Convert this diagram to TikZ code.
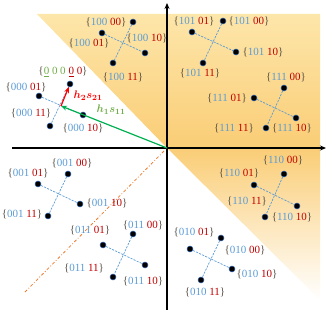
\documentclass[tikz,border=0pt]{standalone}
\usepackage{fontspec}
\setmainfont{Liberation Serif}
\usepackage{bm}
\usetikzlibrary{arrows.meta}
\definecolor{bl}{RGB}{91,155,213}
\definecolor{rd}{RGB}{192,0,0}
\definecolor{brc}{RGB}{89,80,70}
\definecolor{gn}{RGB}{112,173,71}
\definecolor{arrg}{RGB}{0,176,80}
\definecolor{shd}{RGB}{250,205,118}
\definecolor{shl}{RGB}{253,230,170}
\definecolor{dd}{RGB}{237,125,49}
\newcommand\mylab[2]{\textcolor{brc}{\{}\textcolor{bl}{#1} \textcolor{rd}{#2}\textcolor{brc}{\}}}
\begin{document}
\begin{tikzpicture}[x=1pt,y=-1pt,
  pt/.style={circle,fill=black,draw={rgb,255:red,60;green,110;blue,180},line width=0.5pt,inner sep=0pt,minimum size=6pt},
  cline/.style={draw=bl,dashed,dash pattern=on 2.2pt off 1.2pt,line width=0.7pt},
  lb/.style={inner sep=0pt,font=\fontsize{11}{12}\selectfont},
  axis/.style={line width=1.3pt,-{Stealth[length=6pt,width=5pt]}}]
\useasboundingbox (0,0) rectangle (327,310);
% shading
\shade[top color=shl,bottom color=shd] (37,14) -- (320,14) -- (320,148) -- (167,148) -- cycle;
\shade[top color=shd,bottom color=white] (167,148) -- (320,148) -- (320,300) -- cycle;
% dash-dot line
\coordinate (dda) at (25,292);
\coordinate (ddb) at (165,150);
\draw[dd,line width=0.8pt,dash pattern=on 3pt off 2pt on 0.8pt off 2pt] (dda) -- (ddb);
% axes
\coordinate (O) at (167,148);
\coordinate (yb) at (167,310);
\coordinate (yt) at (167,3);
\coordinate (xl) at (12,148);
\coordinate (xr) at (326,148);
\draw[axis] (yb) -- (yt);
\draw[axis] (xl) -- (xr);
% points
\foreach \g/\ax/\ay/\bx/\by/\cx/\cy/\dx/\dy in {
  p100/133/22/102/33/145/53/113/63,
  p000/70/84/39/96/83/115/50/126,
  p101/223/21/192/32/236/52/203/63,
  p111/284/88/254/98/296/118/266/128,
  p001/68/174/38/184/80/204/48/216,
  p011/133/234/103/245/145/265/113/277,
  p110/284/174/254/185/297/206/265/217,
  p010/221/238/190/249/232/269/201/280}{
  \node[pt] (\g a) at (\ax,\ay) {};
  \node[pt] (\g b) at (\bx,\by) {};
  \node[pt] (\g c) at (\cx,\cy) {};
  \node[pt] (\g d) at (\dx,\dy) {};
  \draw[cline] (\g a) -- (\g d);
  \draw[cline] (\g b) -- (\g c);
}
% labels
\node[lb] (l100a) at (106,22) {\mylab{100}{00}};
\node[lb] (l100b) at (89,43) {\mylab{100}{01}};
\node[lb] (l100c) at (147,38) {\mylab{100}{10}};
\node[lb] (l100d) at (123,77) {\mylab{100}{11}};
\node[lb] (l000a) at (63,72) {\textcolor{brc}{\{}\textcolor{gn}{\underline{0} 0 0} \textcolor{rd}{\underline{0} 0}\textcolor{brc}{\}}};
\node[lb] (l000b) at (26,87) {\mylab{000}{01}};
\node[lb] (l000c) at (83,128) {\mylab{000}{10}};
\node[lb] (l000d) at (31,113) {\mylab{000}{11}};
\node[lb] (l101a) at (249,21) {\mylab{101}{00}};
\node[lb] (l101b) at (194,21) {\mylab{101}{01}};
\node[lb] (l101c) at (263,52) {\mylab{101}{10}};
\node[lb] (l101d) at (200,73) {\mylab{101}{11}};
\node[lb] (l111a) at (286,77) {\mylab{111}{00}};
\node[lb] (l111b) at (227,98) {\mylab{111}{01}};
\node[lb] (l111c) at (292,128) {\mylab{111}{10}};
\node[lb] (l111d) at (234,128) {\mylab{111}{11}};
\node[lb] (l001a) at (72,163) {\mylab{001}{00}};
\node[lb] (l001b) at (28,173) {\mylab{001}{01}};
\node[lb] (l001c) at (107,203) {\mylab{001}{10}};
\node[lb] (l001d) at (22,214) {\mylab{001}{11}};
\node[lb] (l011a) at (143,225) {\mylab{011}{00}};
\node[lb] (l011b) at (90,230) {\mylab{011}{01}};
\node[lb] (l011c) at (143,281) {\mylab{011}{10}};
\node[lb] (l011d) at (84,268) {\mylab{011}{11}};
\node[lb] (l110a) at (283,160) {\mylab{110}{00}};
\node[lb] (l110b) at (239,173) {\mylab{110}{01}};
\node[lb] (l110c) at (292,217) {\mylab{110}{10}};
\node[lb] (l110d) at (247,201) {\mylab{110}{11}};
\node[lb] (l010a) at (245,250) {\mylab{010}{00}};
\node[lb] (l010b) at (194,232) {\mylab{010}{01}};
\node[lb] (l010c) at (257,274) {\mylab{010}{10}};
\node[lb] (l010d) at (205,292) {\mylab{010}{11}};
% superposition arrows
\coordinate (M) at (61,106);
\draw[arrg,line width=1.2pt,-{Stealth[length=6pt,width=5pt]}] (O) -- (M);
\draw[red,line width=1.2pt,-{Stealth[length=6pt,width=5pt]}] (M) -- (p000a);
\node[lb,text=red] (h2) at (88,96) {$\bm{h_2 s_{21}}$};
\node[lb,text=gn] (h1) at (111,110) {$\bm{h_1 s_{11}}$};
\end{tikzpicture}
\end{document}
